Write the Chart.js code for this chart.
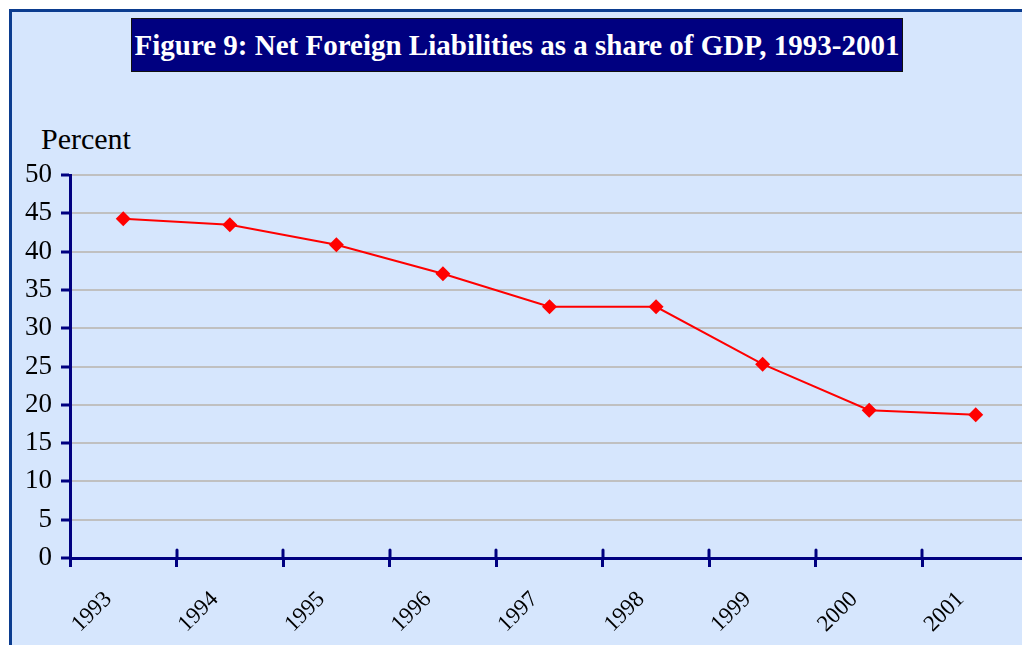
<!DOCTYPE html>
<html>
<head>
<meta charset="utf-8">
<script src="https://cdn.jsdelivr.net/npm/chart.js@4.4.1/dist/chart.umd.min.js"></script>
<style>
  html, body { margin: 0; padding: 0; background: #ffffff; overflow: hidden; width: 1022px; height: 645px; }
  #frame {
    position: absolute; left: 9px; top: 9px; width: 1100px; height: 700px;
    background: #d6e6fd; border-left: 3px solid #0b3c8f; border-top: 3px solid #0b3c8f;
  }
  #title {
    position: absolute; left: 131px; top: 18px; width: 770px; height: 52px;
    background: #000080; border: 1px solid #111;
    color: #ffffff; font: bold 29px "Liberation Serif", serif;
    display: flex; align-items: center; justify-content: center; white-space: nowrap;
  }
  #unit {
    position: absolute; left: 41px; top: 122px;
    font: 30px "Liberation Serif", serif; color: #000;
  }
  #wrap { position: absolute; left: 0; top: 0; width: 1040px; height: 645px; }
</style>
</head>
<body>
<div id="frame"></div>
<div id="title">Figure 9: Net Foreign Liabilities as a share of GDP, 1993-2001</div>
<div id="unit">Percent</div>
<div id="wrap"><canvas id="chart" width="1040" height="645"></canvas></div>

<script>
const years = ["1993", "1994", "1995", "1996", "1997", "1998", "1999", "2000", "2001"];
const liabilities = [44.3, 43.5, 40.9, 37.1, 32.8, 32.8, 25.3, 19.3, 18.7];
const yTicks = [0, 5, 10, 15, 20, 25, 30, 35, 40, 45, 50];

const navy = "#000080";

// excel style tick marks crossing the x axis (inner half)
const crossTicks = {
  id: "crossTicks",
  afterDatasetsDraw(chart) {
    const x = chart.scales.x;
    const ctx = chart.ctx;
    const step = x.width / years.length;
    ctx.save();
    ctx.strokeStyle = navy;
    ctx.lineWidth = 3;
    ctx.lineCap = "round";
    for (let i = 1; i < years.length; i++) {
      const px = Math.round(x.left + i * step);
      ctx.beginPath();
      ctx.moveTo(px, x.top - 8);
      ctx.lineTo(px, x.top);
      ctx.stroke();
    }
    ctx.restore();
  },
};

new Chart(document.getElementById("chart"), {
  type: "line",
  data: {
    labels: years,
    datasets: [
      {
        data: liabilities,
        borderColor: "#ff0000",
        backgroundColor: "#ff0000",
        borderWidth: 2,
        pointStyle: "rectRot",
        pointRadius: 7.5,
        pointBorderWidth: 0,
        tension: 0,
      },
    ],
  },
  options: {
    responsive: false,
    devicePixelRatio: 1,
    animation: false,
    layout: { padding: { top: 175, right: 11, bottom: 0, left: 0 } },
    plugins: { legend: { display: false }, tooltip: { enabled: false } },
    scales: {
      x: {
        offset: true,
        afterFit(scale) { scale.height = 87; },
        grid: {
          offset: true,
          drawOnChartArea: false,
          tickLength: 9,
          color: navy,
          lineWidth: 3,
        },
        border: { color: navy, width: 3 },
        ticks: {
          color: "#000",
          font: { family: "'Liberation Serif', serif", size: 23 },
          minRotation: 45,
          maxRotation: 45,
          autoSkip: false,
          labelOffset: -15,
          padding: 19,
        },
      },
      y: {
        min: 0,
        max: 50,
        afterFit(scale) { scale.width = 70; },
        afterBuildTicks(scale) { scale.ticks = yTicks.map(v => ({ value: v })); },
        grid: {
          color: "#c0c0c0",
          lineWidth: 2,
          tickLength: 9,
          tickColor: navy,
          tickWidth: 3,
        },
        border: { color: navy, width: 3 },
        ticks: {
          color: "#000",
          font: { family: "'Liberation Serif', serif", size: 27 },
          padding: 9,
        },
      },
    },
  },
  plugins: [crossTicks],
});
</script>
</body>
</html>
